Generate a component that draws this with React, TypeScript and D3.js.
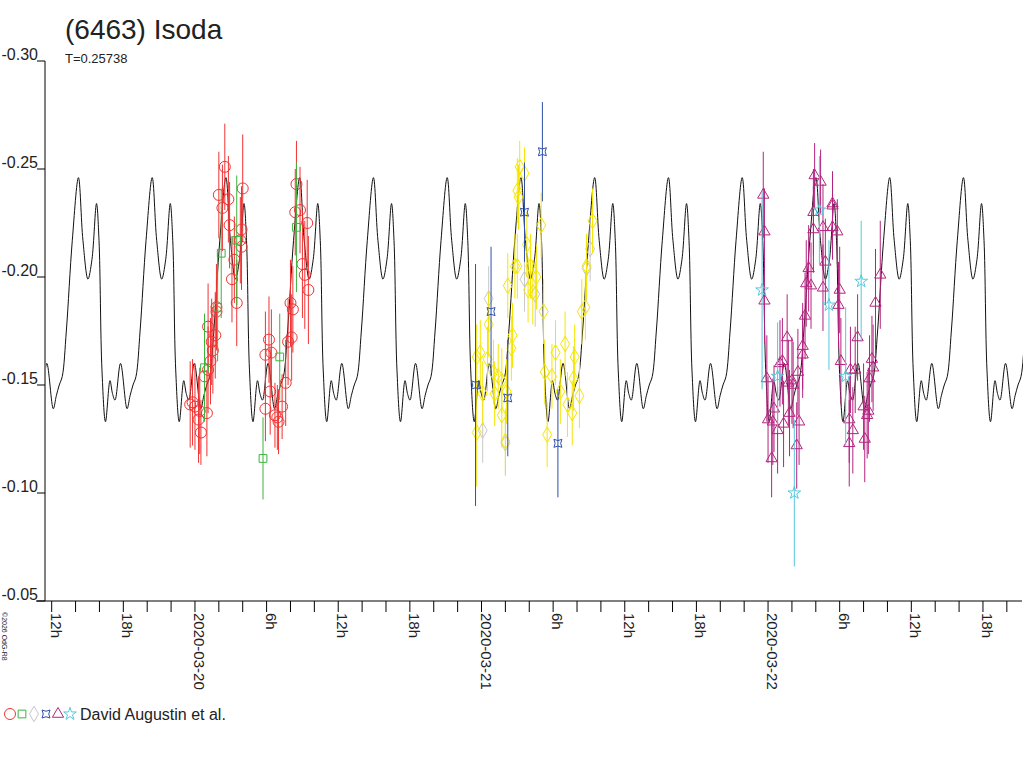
import React from "react";
import * as d3 from "d3";

// hours after 2020-03-20 00:00, magnitude, error
type Obs = [number, number, number];

const TITLE = "(6463) Isoda";
const PERIOD_LABEL = "T=0.25738";
const PERIOD_H = 0.25738 * 24;
const EPOCH_H = -9.76; // a model maximum

// one cycle of the model curve: phase, magnitude
const modelPhase = [0, 0.061, 0.129, 0.183, 0.245, 0.279, 0.319, 0.367, 0.428, 0.462, 0.496, 0.571, 0.659, 0.7, 0.74, 0.781, 0.836, 0.917];
const modelMag = [-0.246, -0.217, -0.199, -0.208, -0.234, -0.217, -0.157, -0.133, -0.152, -0.146, -0.143, -0.16, -0.139, -0.145, -0.15, -0.154, -0.175, -0.217];

const yTicks = [-0.3, -0.25, -0.2, -0.15, -0.1, -0.05];

const red: Obs[] = [
  [2.5, -0.251, 0.02], [2.0, -0.238, 0.02], [2.8, -0.236, 0.02], [2.3, -0.232, 0.02], [4.0, -0.241, 0.025],
  [2.9, -0.224, 0.02], [3.9, -0.222, 0.02], [3.8, -0.217, 0.02], [3.9, -0.214, 0.02], [3.3, -0.208, 0.02],
  [3.1, -0.199, 0.02], [3.5, -0.188, 0.02], [1.8, -0.186, 0.02], [1.8, -0.184, 0.015], [1.1, -0.177, 0.02],
  [1.7, -0.173, 0.02], [1.4, -0.17, 0.02], [1.5, -0.166, 0.02], [1.3, -0.161, 0.02], [1.1, -0.157, 0.02],
  [0.8, -0.154, 0.02], [-0.4, -0.141, 0.02], [0.0, -0.14, 0.02], [0.4, -0.138, 0.02], [1.0, -0.137, 0.02],
  [0.3, -0.134, 0.02], [0.5, -0.128, 0.015], [-0.2, -0.142, 0.02],
  [8.5, -0.243, 0.02], [8.4, -0.23, 0.02], [9.4, -0.225, 0.02], [9.0, -0.206, 0.025], [9.2, -0.201, 0.025],
  [9.5, -0.194, 0.025], [8.0, -0.188, 0.02], [8.2, -0.185, 0.02], [8.1, -0.172, 0.02], [7.8, -0.17, 0.02],
  [6.2, -0.171, 0.02], [6.4, -0.165, 0.02], [5.9, -0.164, 0.02], [7.6, -0.151, 0.02], [6.3, -0.147, 0.02],
  [7.3, -0.14, 0.015], [5.9, -0.139, 0.015], [6.7, -0.136, 0.015], [6.9, -0.135, 0.015], [7.0, -0.133, 0.015],
  [8.8, -0.231, 0.02],
];
const green: Obs[] = [
  [2.2, -0.211, 0.03], [0.8, -0.158, 0.025], [3.5, -0.217, 0.03], [5.7, -0.116, 0.019],
  [7.1, -0.163, 0.02], [8.5, -0.223, 0.03], [1.9, -0.186, 0.025],
];
const gray: Obs[] = [
  [24.6, -0.19, 0.015], [26.0, -0.123, 0.015], [27.6, -0.199, 0.015], [28.5, -0.192, 0.015],
  [32.8, -0.204, 0.015], [33.1, -0.213, 0.015], [24.1, -0.129, 0.015],
];
const yellow: Obs[] = [
  [27.2, -0.251, 0.012], [27.6, -0.248, 0.012], [27.0, -0.24, 0.015], [27.1, -0.237, 0.015], [29.0, -0.224, 0.015],
  [27.8, -0.215, 0.015], [26.8, -0.205, 0.015], [27.0, -0.205, 0.015], [28.1, -0.205, 0.015], [28.6, -0.2, 0.015],
  [26.2, -0.196, 0.015], [27.9, -0.194, 0.015], [28.3, -0.193, 0.015], [29.2, -0.184, 0.015], [24.6, -0.178, 0.015],
  [26.6, -0.173, 0.015], [26.5, -0.167, 0.015], [23.9, -0.165, 0.015], [23.6, -0.163, 0.015], [24.5, -0.162, 0.015],
  [25.0, -0.156, 0.015], [25.4, -0.154, 0.015], [25.7, -0.152, 0.015], [24.1, -0.146, 0.015], [25.1, -0.146, 0.015],
  [26.1, -0.147, 0.015], [25.7, -0.136, 0.015], [23.6, -0.128, 0.025], [26.0, -0.124, 0.015], [31.0, -0.169, 0.015],
  [30.2, -0.165, 0.015], [31.8, -0.163, 0.015], [29.3, -0.156, 0.015], [29.9, -0.154, 0.015], [31.7, -0.153, 0.015],
  [30.6, -0.147, 0.015], [32.2, -0.145, 0.015], [31.2, -0.141, 0.015], [31.6, -0.137, 0.015], [29.5, -0.127, 0.015],
  [33.3, -0.226, 0.015], [32.8, -0.205, 0.015], [32.7, -0.186, 0.015], [32.4, -0.184, 0.015],
];
const blue: Obs[] = [
  [29.1, -0.258, 0.023], [27.6, -0.23, 0.023], [24.8, -0.184, 0.03], [23.5, -0.15, 0.056],
  [26.2, -0.144, 0.027], [30.4, -0.123, 0.025],
];
const magenta: Obs[] = [
  [47.6, -0.238, 0.02], [47.7, -0.221, 0.02], [47.7, -0.189, 0.02], [47.9, -0.153, 0.02], [48.0, -0.134, 0.02],
  [48.3, -0.116, 0.018], [48.4, -0.133, 0.02], [48.5, -0.139, 0.02], [48.8, -0.129, 0.02], [49.0, -0.16, 0.02],
  [49.2, -0.161, 0.02], [49.3, -0.132, 0.02], [49.6, -0.172, 0.02], [49.7, -0.151, 0.02], [50.0, -0.152, 0.02],
  [50.1, -0.15, 0.02], [49.8, -0.137, 0.02], [50.4, -0.122, 0.02], [50.5, -0.156, 0.02], [50.6, -0.133, 0.02],
  [50.9, -0.168, 0.02], [50.9, -0.164, 0.02], [51.1, -0.182, 0.02], [51.2, -0.197, 0.02], [51.4, -0.204, 0.02],
  [51.6, -0.196, 0.02], [51.8, -0.222, 0.02], [51.8, -0.23, 0.02], [51.9, -0.247, 0.015], [52.4, -0.244, 0.015],
  [52.6, -0.223, 0.02], [52.8, -0.207, 0.02], [52.6, -0.195, 0.02], [53.4, -0.234, 0.015], [53.4, -0.233, 0.015],
  [53.4, -0.223, 0.015], [53.8, -0.221, 0.015], [54.0, -0.194, 0.02], [53.9, -0.187, 0.02], [54.1, -0.161, 0.02],
  [54.9, -0.157, 0.02], [55.3, -0.157, 0.02], [55.5, -0.172, 0.02], [54.8, -0.134, 0.02], [55.1, -0.129, 0.02],
  [54.8, -0.123, 0.02], [56.0, -0.14, 0.02], [56.3, -0.136, 0.02], [56.1, -0.125, 0.02], [56.4, -0.138, 0.02],
  [56.5, -0.153, 0.02], [56.7, -0.162, 0.02], [56.8, -0.158, 0.02], [57.0, -0.188, 0.025], [57.4, -0.201, 0.025],
];
const cyan: Obs[] = [
  [47.5, -0.194, 0.046], [48.8, -0.154, 0.025], [50.2, -0.1, 0.034], [52.3, -0.231, 0.025],
  [53.1, -0.187, 0.03], [54.5, -0.154, 0.032], [55.8, -0.198, 0.028],
];
const legendText = "David Augustin et al.";

const W = 1024;
const left = 45, right = 1022, top = 61, bottom = 601;
const x = d3.scaleLinear().domain([-12.56, 69.27]).range([left, right]);
const y = d3.scaleLinear().domain([-0.3, -0.05]).range([top, bottom]);

const quad = "M-4,-4Q0,-1.5 4,-4Q1.5,0 4,4Q0,1.5 -4,4Q-1.5,0 -4,-4Z";
type Series = { data: Obs[]; color: string; path: string };
const series: Series[] = [
  { data: gray, color: "#c8c8c8", path: d3.symbol(d3.symbolDiamond, 70)()! },
  { data: red, color: "#f03232", path: d3.symbol(d3.symbolCircle, 95)()! },
  { data: green, color: "#3cb43c", path: d3.symbol(d3.symbolSquare, 60)()! },
  { data: yellow, color: "#f5e600", path: d3.symbol(d3.symbolDiamond, 70)()! },
  { data: blue, color: "#3050a8", path: quad },
  { data: magenta, color: "#b4237f", path: d3.symbol(d3.symbolTriangle, 55)()! },
  { data: cyan, color: "#55c8dc", path: d3.symbol(d3.symbolStar, 50)()! },
];
const legendOrder = [1, 2, 0, 4, 5, 6];

export default function App() {
  const [h0, h1] = x.domain();
  const model: [number, number][] = [];
  for (let k = -2; k < 16; k++) {
    modelPhase.forEach((p, i) => {
      const h = EPOCH_H + (k + p) * PERIOD_H;
      if (h >= h0 - PERIOD_H && h <= h1 + PERIOD_H) model.push([h, modelMag[i]]);
    });
  }
  const line = d3.line<[number, number]>().x((d) => x(d[0])).y((d) => y(d[1])).curve(d3.curveCatmullRom.alpha(0.5));
  const ticks = d3.range(-12, 70, 2);
  const fmtDay = d3.utcFormat("%Y-%m-%d");
  const day0 = Date.UTC(2020, 2, 20);
  const label = (h: number) => {
    if (h % 6 !== 0) return "";
    const hh = ((h % 24) + 24) % 24;
    return hh === 0 ? fmtDay(new Date(day0 + h * 3600e3)) : `${hh}h`;
  };

  return (
    <svg width={W} height={768} style={{ position: "absolute", left: 0, top: 0, background: "#fff" }}
      fontFamily="Liberation Sans, Arial, sans-serif">
      <defs>
        <clipPath id="plot"><rect x={left + 1} y={0} width={right - left} height={bottom} /></clipPath>
      </defs>
      <text x={65} y={39} fontSize={28} fill="#222">{TITLE}</text>
      <text x={65} y={63} fontSize={13} fill="#222">{PERIOD_LABEL}</text>

      <path d={line(model) ?? ""} fill="none" stroke="#111" strokeWidth={1} clipPath="url(#plot)" />

      {series.map((s, si) => (
        <g key={si} stroke={s.color} fill="none">
          {s.data.map((d, i) => (
            <g key={i}>
              <line x1={x(d[0])} x2={x(d[0])} y1={y(d[1] - d[2])} y2={y(d[1] + d[2])} />
              <path d={s.path} transform={`translate(${x(d[0])},${y(d[1])})`} />
            </g>
          ))}
        </g>
      ))}

      <g stroke="#000" fill="none">
        <line x1={left} x2={left} y1={top} y2={bottom} />
        <line x1={left - 9} x2={right} y1={bottom} y2={bottom} />
        {yTicks.map((t) => <line key={t} x1={left - 8} x2={left} y1={y(t)} y2={y(t)} />)}
        {ticks.map((t) => <line key={t} x1={x(t)} x2={x(t)} y1={bottom} y2={bottom + 11} />)}
      </g>
      {yTicks.map((t) => (
        <text key={t} x={left - 7} y={y(t) - 1} fontSize={16} textAnchor="end" fill="#222">{t.toFixed(2)}</text>
      ))}
      {ticks.filter((t) => label(t)).map((t) => (
        <text key={t} transform={`translate(${x(t) - 1},613) rotate(90)`} fontSize={15} fill="#222">{label(t)}</text>
      ))}
      <text transform="translate(2,612) rotate(90)" fontSize={7} fill="#222">©2026 OdG-R8</text>

      {legendOrder.map((si, i) => (
        <path key={si} d={series[si].path} transform={`translate(${10 + i * 12},714)`} stroke={series[si].color} fill="none" />
      ))}
      <text x={80} y={720} fontSize={16} fill="#222">{legendText}</text>
    </svg>
  );
}
